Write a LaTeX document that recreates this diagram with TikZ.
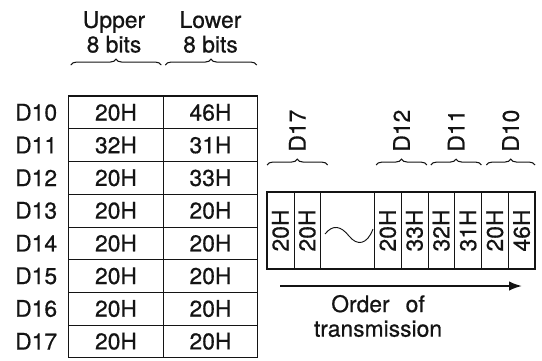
\documentclass[tikz,border=0pt]{standalone}
\usepackage{fontspec}
\setmainfont{TeX Gyre Heros}[FakeBold=0.6]
\usetikzlibrary{arrows.meta,calc,decorations.pathreplacing,positioning}
\definecolor{FigInk}{HTML}{141414}

\tikzset{
  cellbox/.style={draw=FigInk,line width=0.5pt,minimum width=2.835cm,minimum height=0.981cm,
    inner sep=0pt,outer sep=0pt},
  slotbox/.style={draw=FigInk,line width=0.5pt,minimum width=0.804cm,minimum height=2.31cm,
    inner sep=0pt,outer sep=0pt},
  slottext/.style={rotate=90,inner sep=0pt},
  bracetop/.style={decorate,decoration={brace,amplitude=5pt},FigInk,line width=0.9pt},
}

\begin{document}
\begin{tikzpicture}[x=0.03cm,y=-0.03cm,>=Latex,font=\fontsize{19.5}{21}\selectfont,FigInk]
  \useasboundingbox (0,0) rectangle (542,360);
  \pgfmathsetmacro{\rowh}{32.7}
  \pgfmathsetmacro{\tabtop}{96}
  % left table: register contents
  \foreach \i/\hi/\lo in {0/20H/46H,1/32H/31H,2/20H/33H,3/20H/20H,4/20H/20H,5/20H/20H,6/20H/20H,7/20H/20H}{%
    \pgfmathsetmacro{\rowy}{\tabtop+\rowh*(\i+0.5)}
    \node[cellbox] (up\i) at (116,\rowy) {\hi};
    \node[cellbox] (lo\i) at (210.5,\rowy) {\lo};
    \node[anchor=west,inner sep=0pt] (lab\i) at (15,\rowy) {D1\i};
  }
  \draw[line width=1.1pt] (up0.north west) rectangle (lo7.south east);
  \draw[bracetop] ($(up0.north west)+(2,-31)$) -- ($(up0.north east)+(-2,-31)$);
  \draw[bracetop] ($(lo0.north west)+(2,-31)$) -- ($(lo0.north east)+(-1,-31)$);
  \node[align=center] (uphead) at (114,32) {Upper\\8 bits};
  \node[align=center] (lohead) at (210.5,32) {Lower\\8 bits};
  % right strip: order of transmission
  \foreach \k/\val in {0/20H,1/20H,4/20H,5/33H,6/32H,7/31H,8/20H,9/46H}{%
    \node[slotbox] (slot\k) at (267+26.8*\k+13.4,230.5) {};
    \node[slottext] at (slot\k) {\val};
  }
  \draw[line width=1.1pt] (slot0.north west) rectangle (slot9.south east);
  \draw[line width=0.8pt] (325,234) .. controls (333,224) and (341,226) .. (349,236)
    .. controls (357,246) and (367,245) .. (373,229);
  \draw[bracetop] ($(slot0.north west)+(0,-27)$) -- ($(slot1.north east)+(7,-27)$)
    node[midway,above=11pt,slottext,anchor=west] (d17) {D17};
  \draw[bracetop] ($(slot4.north west)+(2,-27)$) -- ($(slot5.north east)+(-1,-27)$)
    node[midway,above=11pt,slottext,anchor=west] (d12) {D12};
  \draw[bracetop] ($(slot6.north west)+(3,-27)$) -- ($(slot7.north east)+(0,-27)$)
    node[midway,above=11pt,slottext,anchor=west] (d11) {D11};
  \draw[bracetop] ($(slot8.north west)+(5,-27)$) -- ($(slot9.north east)+(0,-27)$)
    node[midway,above=11pt,slottext,anchor=west] (d10) {D10};
  \coordinate (sendfrom) at ($(slot0.south west)+(13,17)$);
  \coordinate (sendto) at ($(slot9.south east)+(-13,17)$);
  \draw[->,line width=1.6pt,>={Latex[length=11pt,width=8pt]}] (sendfrom) -- (sendto);
  \node[align=center] (order) at (378,316) {Order\hspace{0.7em}of\\transmission};
\end{tikzpicture}
\end{document}
